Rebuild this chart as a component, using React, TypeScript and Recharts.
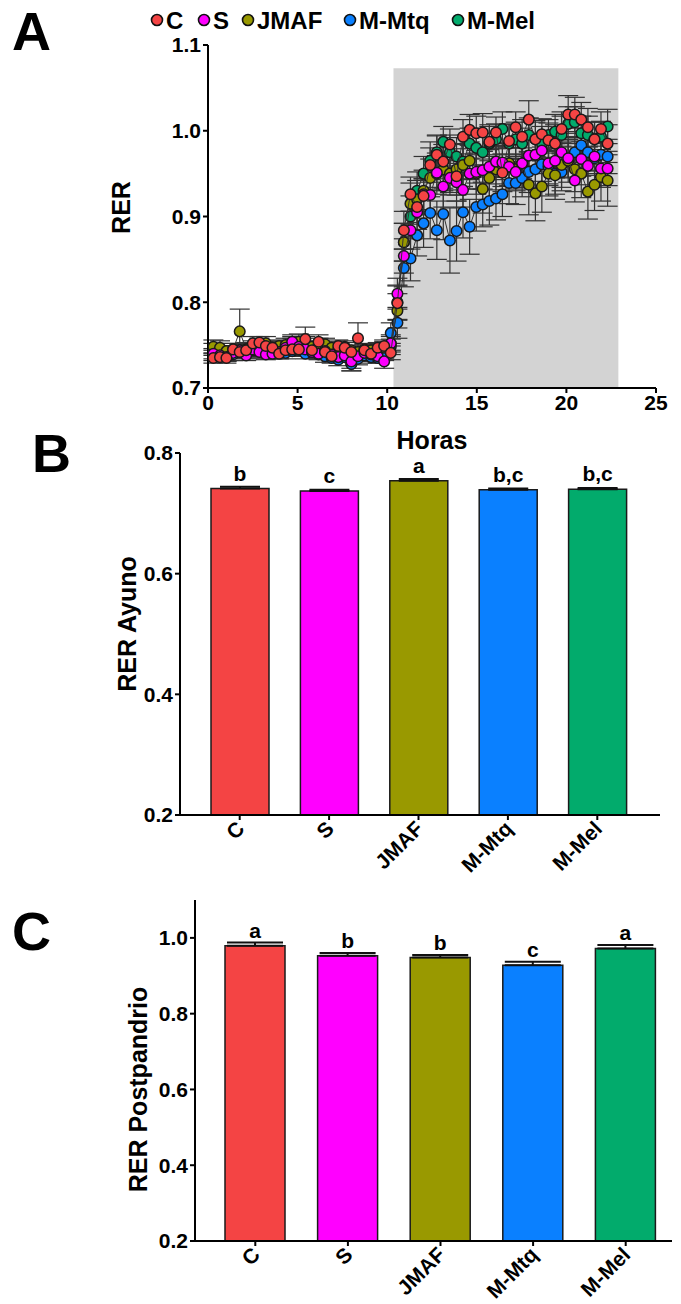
import React from "react";
import {
  ScatterChart,
  Scatter,
  BarChart,
  Bar,
  Cell,
  XAxis,
  YAxis,
  ErrorBar,
  ReferenceArea,
  Legend,
  LabelList,
} from "recharts";

const FONT = "'Liberation Sans', Arial, Helvetica, sans-serif";

const GROUPS = ["C", "S", "JMAF", "M-Mtq", "M-Mel"];
const COLORS = ["#f44444", "#ff00ff", "#999900", "#0a80ff", "#02ab6c"];

// time points (h), one every ~22 min
const HOURS = [
  0.3, 0.67, 1.03, 1.4, 1.77, 2.13, 2.5, 2.87, 3.23, 3.6, 3.97, 4.33, 4.7, 5.07, 5.43, 5.8,
  6.17, 6.53, 6.9, 7.27, 7.63, 8.0, 8.37, 8.73, 9.1, 9.47, 9.83, 10.2, 10.57, 10.93, 11.3,
  11.67, 12.03, 12.4, 12.77, 13.13, 13.5, 13.87, 14.23, 14.6, 14.97, 15.33, 15.7, 16.07,
  16.43, 16.8, 17.17, 17.53, 17.9, 18.27, 18.63, 19.0, 19.37, 19.73, 20.1, 20.47, 20.83,
  21.2, 21.57, 21.93, 22.3,
];

const C_RER = [
  0.735, 0.736, 0.735, 0.745, 0.742, 0.744, 0.752, 0.753, 0.749, 0.747, 0.74, 0.744, 0.745,
  0.745, 0.757, 0.744, 0.754, 0.742, 0.737, 0.749, 0.747, 0.742, 0.758, 0.744, 0.74, 0.747,
  0.749, 0.741, 0.799, 0.884, 0.926, 0.911, 0.924, 0.96, 0.972, 0.964, 0.984, 0.947, 0.993,
  1.001, 0.997, 0.998, 0.987, 0.998, 0.951, 0.988, 1.004, 0.993, 1.013, 0.99, 0.996, 0.989,
  0.985, 1.002, 1.019, 1.019, 1.013, 1.004, 0.99, 1.002, 0.985,
];
const S_RER = [
  0.74, 0.738, 0.736, 0.741, 0.744, 0.738, 0.745, 0.742, 0.739, 0.74, 0.742, 0.747, 0.754,
  0.748, 0.745, 0.742, 0.74, 0.743, 0.739, 0.736, 0.738, 0.731, 0.737, 0.741, 0.739, 0.737,
  0.731, 0.752, 0.81, 0.854, 0.884, 0.905, 0.926, 0.925, 0.951, 0.935, 0.945, 0.94, 0.931,
  0.95, 0.952, 0.954, 0.958, 0.964, 0.963, 0.958, 0.952, 0.962, 0.971, 0.972, 0.977, 0.962,
  0.965, 0.975, 0.968, 0.942, 0.967, 0.959, 0.97, 0.956, 0.956,
];
const JMAF_RER = [
  0.748, 0.747, 0.743, 0.745, 0.766, 0.745, 0.748, 0.75, 0.752, 0.747, 0.749, 0.75, 0.752,
  0.754, 0.752, 0.748, 0.75, 0.751, 0.747, 0.745, 0.748, 0.744, 0.742, 0.745, 0.744, 0.743,
  0.747, 0.752, 0.79, 0.87, 0.915, 0.92, 0.93, 0.945, 0.95, 0.955, 0.95, 0.955, 0.96, 0.965,
  0.95, 0.932, 0.945, 0.955, 0.96, 0.962, 0.955, 0.962, 0.937, 0.927, 0.935, 0.95, 0.948,
  0.96, 0.965, 0.955, 0.95, 0.929, 0.937, 0.946, 0.942,
];
const MTQ_RER = [
  0.738, 0.74, 0.737, 0.739, 0.742, 0.741, 0.744, 0.743, 0.74, 0.742, 0.744, 0.741, 0.743,
  0.745, 0.74, 0.742, 0.739, 0.737, 0.735, 0.733, 0.736, 0.728, 0.734, 0.738, 0.736, 0.735,
  0.74, 0.764, 0.776, 0.84, 0.851, 0.878, 0.892, 0.904, 0.884, 0.903, 0.872, 0.883, 0.905,
  0.888, 0.911, 0.914, 0.918, 0.921, 0.926, 0.939, 0.939, 0.945, 0.952, 0.955, 0.961, 0.958,
  0.95, 0.952, 0.965, 0.975, 0.983, 0.975, 0.968, 0.972, 0.97,
];
const MEL_RER = [
  0.745, 0.743, 0.741, 0.742, 0.744, 0.743, 0.745, 0.747, 0.745, 0.744, 0.746, 0.748, 0.75,
  0.748, 0.746, 0.745, 0.744, 0.746, 0.742, 0.74, 0.742, 0.728, 0.737, 0.74, 0.738, 0.736,
  0.741, 0.748, 0.8, 0.87, 0.9, 0.93, 0.95, 0.965, 0.975, 0.987, 0.975, 0.97, 0.964, 0.985,
  0.98, 0.975, 0.985, 0.99, 1.002, 0.985, 0.99, 0.985, 0.995, 0.99, 0.985, 0.995, 0.999,
  0.995, 1.008, 1.01, 0.997, 0.995, 0.99, 0.993, 1.005,
];

const C_SEM = [
  0.006, 0.005, 0.006, 0.007, 0.006, 0.006, 0.008, 0.007, 0.006, 0.006, 0.006, 0.007, 0.007,
  0.008, 0.014, 0.007, 0.008, 0.006, 0.006, 0.007, 0.006, 0.006, 0.018, 0.007, 0.006, 0.006,
  0.007, 0.008, 0.02, 0.022, 0.02, 0.018, 0.02, 0.02, 0.022, 0.02, 0.018, 0.022, 0.02, 0.018,
  0.02, 0.022, 0.02, 0.018, 0.022, 0.02, 0.018, 0.02, 0.022, 0.02, 0.018, 0.02, 0.022, 0.02,
  0.022, 0.02, 0.02, 0.022, 0.02, 0.02, 0.022,
];
const S_SEM = [
  0.006, 0.006, 0.005, 0.006, 0.007, 0.006, 0.006, 0.007, 0.006, 0.006, 0.007, 0.006, 0.008,
  0.007, 0.006, 0.007, 0.006, 0.006, 0.007, 0.006, 0.006, 0.008, 0.006, 0.006, 0.007, 0.006,
  0.008, 0.01, 0.018, 0.02, 0.022, 0.02, 0.018, 0.022, 0.02, 0.024, 0.02, 0.022, 0.02, 0.018,
  0.02, 0.022, 0.02, 0.018, 0.02, 0.022, 0.02, 0.018, 0.02, 0.022, 0.02, 0.024, 0.02, 0.018,
  0.022, 0.025, 0.02, 0.022, 0.02, 0.022, 0.02,
];
const JMAF_SEM = [
  0.008, 0.008, 0.006, 0.007, 0.026, 0.008, 0.007, 0.008, 0.008, 0.007, 0.007, 0.008, 0.008,
  0.009, 0.008, 0.007, 0.008, 0.007, 0.007, 0.006, 0.007, 0.006, 0.007, 0.007, 0.006, 0.007,
  0.007, 0.008, 0.02, 0.022, 0.024, 0.022, 0.024, 0.022, 0.024, 0.025, 0.022, 0.024, 0.025,
  0.022, 0.024, 0.028, 0.025, 0.024, 0.025, 0.024, 0.025, 0.028, 0.035, 0.032, 0.03, 0.026,
  0.028, 0.026, 0.025, 0.026, 0.028, 0.032, 0.03, 0.028, 0.03,
];
const MTQ_SEM = [
  0.006, 0.006, 0.006, 0.007, 0.006, 0.007, 0.006, 0.007, 0.006, 0.007, 0.006, 0.007, 0.006,
  0.007, 0.006, 0.007, 0.006, 0.007, 0.006, 0.007, 0.006, 0.008, 0.007, 0.006, 0.007, 0.006,
  0.008, 0.012, 0.018, 0.022, 0.026, 0.024, 0.028, 0.03, 0.034, 0.03, 0.038, 0.035, 0.03,
  0.032, 0.028, 0.026, 0.028, 0.025, 0.026, 0.024, 0.025, 0.022, 0.024, 0.022, 0.02, 0.022,
  0.024, 0.022, 0.02, 0.018, 0.02, 0.022, 0.02, 0.018, 0.02,
];
const MEL_SEM = [
  0.007, 0.006, 0.006, 0.007, 0.006, 0.006, 0.007, 0.007, 0.006, 0.006, 0.007, 0.007, 0.008,
  0.007, 0.006, 0.006, 0.007, 0.006, 0.006, 0.006, 0.007, 0.008, 0.006, 0.006, 0.007, 0.006,
  0.007, 0.009, 0.02, 0.022, 0.024, 0.022, 0.02, 0.022, 0.02, 0.018, 0.02, 0.022, 0.02, 0.018,
  0.02, 0.022, 0.02, 0.018, 0.02, 0.022, 0.02, 0.018, 0.02, 0.022, 0.02, 0.018, 0.02, 0.022,
  0.02, 0.018, 0.02, 0.022, 0.02, 0.018, 0.02,
];

// shaded postprandial window
const FED_START = 10.35;
const FED_END = 22.9;
const FED_TOP = 1.073;

const A_TICKS_X = [0, 5, 10, 15, 20, 25];
const A_TICKS_Y = [0.7, 0.8, 0.9, 1.0, 1.1];

// panel B: fasting RER
const AYUNO = [0.741, 0.737, 0.754, 0.739, 0.74];
const AYUNO_SEM = [0.003, 0.002, 0.003, 0.002, 0.002];
const AYUNO_LETTERS = ["b", "c", "a", "b,c", "b,c"];
const B_TICKS_Y = [0.2, 0.4, 0.6, 0.8];

// panel C: postprandial RER
const POST = [0.979, 0.953, 0.948, 0.928, 0.972];
const POST_SEM = [0.009, 0.007, 0.007, 0.009, 0.009];
const POST_LETTERS = ["a", "b", "b", "c", "a"];
const C_TICKS_Y = [0.2, 0.4, 0.6, 0.8, 1.0];

const RER = [C_RER, S_RER, JMAF_RER, MTQ_RER, MEL_RER];
const SEM = [C_SEM, S_SEM, JMAF_SEM, MTQ_SEM, MEL_SEM];
const DRAW_ORDER = [4, 3, 2, 1, 0];

const tickStyle = { fill: "#000", fontSize: 21, fontWeight: 700, fontFamily: FONT };
const titleStyle = { fill: "#000", fontSize: 25, fontWeight: 700, fontFamily: FONT };
const axisStroke = { stroke: "#000", strokeWidth: 2 };
const fmt1 = (v: number) => v.toFixed(1);

const LEGEND_CIRCLE_X = [157, 204, 248, 350, 458];

function TopLegend() {
  return (
    <svg width={681} height={40} style={{ display: "block" }}>
      {GROUPS.map((g, i) => (
        <g key={g}>
          <circle
            cx={LEGEND_CIRCLE_X[i]}
            cy={20}
            r={5.5}
            fill={COLORS[i]}
            stroke="#111"
            strokeWidth={1.6}
          />
          <text
            x={LEGEND_CIRCLE_X[i] + 9}
            y={29}
            fontSize={24}
            fontWeight={700}
            fontFamily={FONT}
          >
            {g}
          </text>
        </g>
      ))}
    </svg>
  );
}

function Dot(color: string) {
  return (props: any) => (
    <circle cx={props.cx} cy={props.cy} r={5.3} fill={color} stroke="#1a1a1a" strokeWidth={1.5} />
  );
}

function CatTick({ x, y, payload }: any) {
  const ax = x + 6;
  const ay = y + 8;
  return (
    <text
      x={ax}
      y={ay}
      transform={`rotate(-45, ${ax}, ${ay})`}
      textAnchor="end"
      fontSize={21}
      fontWeight={700}
      fontFamily={FONT}
      fill="#000"
    >
      {payload.value}
    </text>
  );
}

function Letter(props: any) {
  const { x, y, width, value } = props;
  return (
    <text
      x={x + width / 2}
      y={y - 8}
      textAnchor="middle"
      fontSize={21}
      fontWeight={700}
      fontFamily={FONT}
      fill="#000"
    >
      {value}
    </text>
  );
}

function PanelTimeline() {
  return (
    <ScatterChart width={681} height={470} margin={{ top: 45, right: 25, bottom: 32, left: 148 }}>
      <ReferenceArea
        x1={FED_START}
        x2={FED_END}
        y1={0.7}
        y2={FED_TOP}
        fill="#d3d3d3"
        fillOpacity={1}
        stroke="none"
      />
      <XAxis
        type="number"
        dataKey="h"
        domain={[0, 25]}
        ticks={A_TICKS_X}
        allowDataOverflow
        height={50}
        axisLine={axisStroke}
        tickLine={axisStroke}
        tickSize={5}
        tick={tickStyle}
        label={{ value: "Horas", position: "bottom", offset: -7, style: titleStyle }}
      />
      <YAxis
        type="number"
        dataKey="v"
        domain={[0.7, 1.1]}
        ticks={A_TICKS_Y}
        allowDataOverflow
        width={60}
        axisLine={axisStroke}
        tickLine={axisStroke}
        tickSize={5}
        tick={tickStyle}
        tickFormatter={fmt1}
        label={{ value: "RER", angle: -90, position: "center", dx: -57, dy: -9, style: titleStyle }}
      />
      {DRAW_ORDER.map((gi) => (
        <Scatter
          key={GROUPS[gi]}
          name={GROUPS[gi]}
          data={HOURS.map((h, i) => ({ h, v: RER[gi][i], e: SEM[gi][i] }))}
          fill={COLORS[gi]}
          line={{ stroke: "#333", strokeWidth: 1 }}
          lineType="joint"
          shape={Dot(COLORS[gi])}
          isAnimationActive={false}
        >
          <ErrorBar dataKey="e" direction="y" width={10} stroke="#333" strokeWidth={1.2} />
        </Scatter>
      ))}
      <Legend
        align="center"
        verticalAlign="middle"
        wrapperStyle={{ top: 0, left: 0, width: 681 }}
        content={() => <TopLegend />}
      />
    </ScatterChart>
  );
}

function PanelBars({
  values,
  sem,
  letters,
  ticks,
  domain,
  title,
  height,
  margin,
  barSize,
  capWidth,
  padding,
  titleDx,
  titleDy,
}: any) {
  const data = GROUPS.map((g, i) => ({ g, v: values[i], e: [0, sem[i]], letter: letters[i] }));
  return (
    <BarChart width={681} height={height} data={data} margin={margin}>
      <XAxis
        dataKey="g"
        type="category"
        interval={0}
        height={60}
        padding={padding}
        axisLine={axisStroke}
        tickLine={axisStroke}
        tickSize={5}
        tick={<CatTick />}
      />
      <YAxis
        type="number"
        domain={domain}
        ticks={ticks}
        allowDataOverflow
        width={80}
        axisLine={axisStroke}
        tickLine={axisStroke}
        tickSize={5}
        tick={tickStyle}
        tickFormatter={fmt1}
        label={{ value: title, angle: -90, position: "center", dx: titleDx, dy: titleDy, style: titleStyle }}
      />
      <Bar dataKey="v" barSize={barSize} stroke="#1a1a1a" strokeWidth={1.5} isAnimationActive={false}>
        {data.map((d, i) => (
          <Cell key={d.g} fill={COLORS[i]} />
        ))}
        <ErrorBar dataKey="e" direction="y" width={capWidth} stroke="#111" strokeWidth={2} />
        <LabelList dataKey="letter" content={<Letter />} />
      </Bar>
    </BarChart>
  );
}

function PanelLetter({ x, y, children }: any) {
  return (
    <text x={x} y={y} fontSize={54} fontWeight={700} fontFamily={FONT} fill="#000">
      {children}
    </text>
  );
}

export default function App() {
  return (
    <div
      style={{
        position: "absolute",
        left: 0,
        top: 0,
        width: 681,
        height: 1304,
        background: "#fff",
        overflow: "hidden",
      }}
    >
      <div style={{ position: "absolute", left: 0, top: 0 }}>
        <PanelTimeline />
      </div>
      <div style={{ position: "absolute", left: 0, top: 420 }}>
        <PanelBars
          values={AYUNO}
          sem={AYUNO_SEM}
          letters={AYUNO_LETTERS}
          ticks={B_TICKS_Y}
          domain={[0.2, 0.8]}
          title="RER Ayuno"
          height={480}
          margin={{ top: 33, right: 21, bottom: 25, left: 100 }}
          barSize={58}
          capWidth={20}
          padding={{ left: 15, right: 18 }}
          titleDx={-13}
          titleDy={-10}
        />
      </div>
      <div style={{ position: "absolute", left: 0, top: 880 }}>
        <PanelBars
          values={POST}
          sem={POST_SEM}
          letters={POST_LETTERS}
          ticks={C_TICKS_Y}
          domain={[0.2, 1.1]}
          title="RER Postpandrio"
          height={424}
          margin={{ top: 20, right: 9, bottom: 3, left: 115 }}
          barSize={60}
          capWidth={28}
          padding={{ left: 14, right: 0 }}
          titleDx={-17}
          titleDy={19}
        />
      </div>
      <svg
        width={681}
        height={1304}
        style={{ position: "absolute", left: 0, top: 0, pointerEvents: "none" }}
      >
        <PanelLetter x={12} y={50}>A</PanelLetter>
        <PanelLetter x={32} y={472}>B</PanelLetter>
        <PanelLetter x={12} y={950}>C</PanelLetter>
      </svg>
    </div>
  );
}
